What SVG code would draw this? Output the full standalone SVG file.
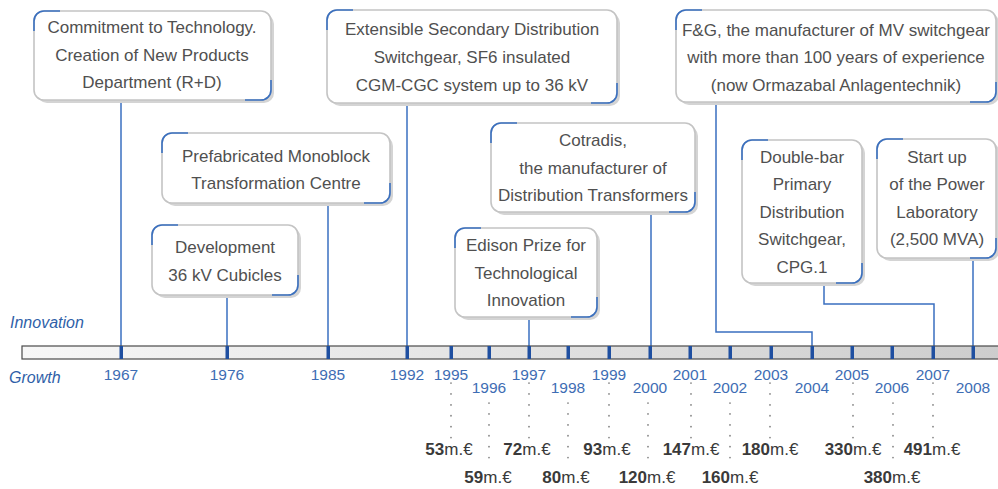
<svg xmlns="http://www.w3.org/2000/svg" width="998" height="489" viewBox="0 0 998 489">
<defs>
<linearGradient id="barg" x1="0" y1="0" x2="1" y2="0">
<stop offset="0" stop-color="#f7f7f7"/>
<stop offset="1" stop-color="#cdcdcd"/>
</linearGradient>
</defs>
<style>
.box{fill:#ffffff;stroke:#c4c4c4;stroke-width:1.6}
.shd{fill:#d4d4d4}
.bc{fill:none;stroke:#3a70c0;stroke-width:1.6}
.bt{font-family:"Liberation Sans",Arial,sans-serif;font-size:17px;fill:#505050;text-anchor:middle}
.con{fill:none;stroke:#3a6fc0;stroke-width:1.5}
.tick{fill:#1f4fa0}
.yr{font-family:"Liberation Sans",Arial,sans-serif;font-size:15.5px;fill:#3e6db4;text-anchor:middle}
.lab{font-family:"Liberation Sans",Arial,sans-serif;font-size:16px;font-style:italic;fill:#2f5fa8}
.dot{fill:none;stroke:#808080;stroke-width:1.7;stroke-dasharray:0.1 10.8;stroke-linecap:round}
.mon{font-family:"Liberation Sans",Arial,sans-serif;font-size:17px;fill:#3a3a3a;text-anchor:middle}
.mon tspan{font-weight:bold}
</style>

<g id="connectors">
<path class="con" d="M121 100V346"/>
<path class="con" d="M227 295V346"/>
<path class="con" d="M328 203V346"/>
<path class="con" d="M407 103V346"/>
<path class="con" d="M529 317V346"/>
<path class="con" d="M651 212V346"/>
<path class="con" d="M716 102V332H812V346"/>
<path class="con" d="M824 283V304H934V346"/>
<path class="con" d="M973 258V346"/>
</g>

<g id="box-1967">
<rect class="shd" x="37" y="14" width="237" height="89" rx="10"/>
<rect class="box" x="34" y="11" width="237" height="89" rx="10"/>
<path class="bc" d="M34 31V21A10 10 0 0 1 44 11H60"/>
<path class="bc" d="M271 80V90A10 10 0 0 1 261 100H245"/>
<text class="bt" x="152" y="33">Commitment to Technology.</text>
<text class="bt" x="152" y="61">Creation of New Products</text>
<text class="bt" x="152" y="88">Department (R+D)</text>
</g>

<g id="box-1985">
<rect class="shd" x="165" y="136" width="228" height="70" rx="10"/>
<rect class="box" x="162" y="133" width="228" height="70" rx="10"/>
<path class="bc" d="M162 153V143A10 10 0 0 1 172 133H188"/>
<path class="bc" d="M390 183V193A10 10 0 0 1 380 203H364"/>
<text class="bt" x="276" y="162">Prefabricated Monoblock</text>
<text class="bt" x="276" y="189">Transformation Centre</text>
</g>

<g id="box-1976">
<rect class="shd" x="155" y="228" width="146" height="70" rx="10"/>
<rect class="box" x="152" y="225" width="146" height="70" rx="10"/>
<path class="bc" d="M152 245V235A10 10 0 0 1 162 225H178"/>
<path class="bc" d="M298 275V285A10 10 0 0 1 288 295H272"/>
<text class="bt" x="225" y="253">Development</text>
<text class="bt" x="225" y="281">36 kV Cubicles</text>
</g>

<g id="box-1992">
<rect class="shd" x="330" y="13" width="290" height="93" rx="10"/>
<rect class="box" x="327" y="10" width="290" height="93" rx="10"/>
<path class="bc" d="M327 30V20A10 10 0 0 1 337 10H353"/>
<path class="bc" d="M617 83V93A10 10 0 0 1 607 103H591"/>
<text class="bt" x="472" y="35">Extensible Secondary Distribution</text>
<text class="bt" x="472" y="63">Switchgear, SF6 insulated</text>
<text class="bt" x="472" y="91">CGM-CGC system up to 36 kV</text>
</g>

<g id="box-2000">
<rect class="shd" x="494" y="126" width="204" height="89" rx="10"/>
<rect class="box" x="491" y="123" width="204" height="89" rx="10"/>
<path class="bc" d="M491 143V133A10 10 0 0 1 501 123H517"/>
<path class="bc" d="M695 192V202A10 10 0 0 1 685 212H669"/>
<text class="bt" x="593" y="146">Cotradis,</text>
<text class="bt" x="593" y="174">the manufacturer of</text>
<text class="bt" x="593" y="201">Distribution Transformers</text>
</g>

<g id="box-1997">
<rect class="shd" x="458" y="231" width="142" height="89" rx="10"/>
<rect class="box" x="455" y="228" width="142" height="89" rx="10"/>
<path class="bc" d="M455 248V238A10 10 0 0 1 465 228H481"/>
<path class="bc" d="M597 297V307A10 10 0 0 1 587 317H571"/>
<text class="bt" x="526" y="251">Edison Prize for</text>
<text class="bt" x="526" y="279">Technological</text>
<text class="bt" x="526" y="306">Innovation</text>
</g>

<g id="box-2004">
<rect class="shd" x="679" y="13" width="320" height="92" rx="10"/>
<rect class="box" x="676" y="10" width="320" height="92" rx="10"/>
<path class="bc" d="M676 30V20A10 10 0 0 1 686 10H702"/>
<path class="bc" d="M996 82V92A10 10 0 0 1 986 102H970"/>
<text class="bt" x="836" y="36">F&amp;G, the manufacturer of MV switchgear</text>
<text class="bt" x="836" y="63">with more than 100 years of experience</text>
<text class="bt" x="836" y="91">(now Ormazabal Anlagentechnik)</text>
</g>

<g id="box-2007">
<rect class="shd" x="745" y="143" width="120" height="143" rx="10"/>
<rect class="box" x="742" y="140" width="120" height="143" rx="10"/>
<path class="bc" d="M742 160V150A10 10 0 0 1 752 140H768"/>
<path class="bc" d="M862 263V273A10 10 0 0 1 852 283H836"/>
<text class="bt" x="802" y="163">Double-bar</text>
<text class="bt" x="802" y="190">Primary</text>
<text class="bt" x="802" y="218">Distribution</text>
<text class="bt" x="802" y="245">Switchgear,</text>
<text class="bt" x="802" y="273">CPG.1</text>
</g>

<g id="box-2008">
<rect class="shd" x="880" y="142" width="119" height="119" rx="10"/>
<rect class="box" x="877" y="139" width="119" height="119" rx="10"/>
<path class="bc" d="M877 159V149A10 10 0 0 1 887 139H903"/>
<path class="bc" d="M996 238V248A10 10 0 0 1 986 258H970"/>
<text class="bt" x="937" y="163">Start up</text>
<text class="bt" x="937" y="190">of the Power</text>
<text class="bt" x="937" y="218">Laboratory</text>
<text class="bt" x="937" y="245">(2,500 MVA)</text>
</g>

<g id="timeline">
<rect x="22" y="346" width="980" height="13" fill="url(#barg)" stroke="#4a4a4a" stroke-width="1.2"/>
<rect class="tick" x="119.5" y="346" width="3.5" height="13"/>
<rect class="tick" x="225.5" y="346" width="3.5" height="13"/>
<rect class="tick" x="326.5" y="346" width="3.5" height="13"/>
<rect class="tick" x="405.5" y="346" width="3.5" height="13"/>
<rect class="tick" x="449.5" y="346" width="3.5" height="13"/>
<rect class="tick" x="487.5" y="346" width="3.5" height="13"/>
<rect class="tick" x="527.5" y="346" width="3.5" height="13"/>
<rect class="tick" x="566.5" y="346" width="3.5" height="13"/>
<rect class="tick" x="607.5" y="346" width="3.5" height="13"/>
<rect class="tick" x="648.5" y="346" width="3.5" height="13"/>
<rect class="tick" x="688.5" y="346" width="3.5" height="13"/>
<rect class="tick" x="728.5" y="346" width="3.5" height="13"/>
<rect class="tick" x="769.5" y="346" width="3.5" height="13"/>
<rect class="tick" x="810.5" y="346" width="3.5" height="13"/>
<rect class="tick" x="850.5" y="346" width="3.5" height="13"/>
<rect class="tick" x="890.5" y="346" width="3.5" height="13"/>
<rect class="tick" x="931.5" y="346" width="3.5" height="13"/>
<rect class="tick" x="971.5" y="346" width="3.5" height="13"/>
</g>

<g id="labels">
<text class="lab" x="10" y="328">Innovation</text>
<text class="lab" x="9" y="383">Growth</text>
</g>

<g id="years">
<text class="yr" x="121" y="380">1967</text>
<text class="yr" x="227" y="380">1976</text>
<text class="yr" x="328" y="380">1985</text>
<text class="yr" x="407" y="380">1992</text>
<text class="yr" x="451" y="380">1995</text>
<text class="yr" x="489" y="393">1996</text>
<text class="yr" x="529" y="380">1997</text>
<text class="yr" x="568" y="393">1998</text>
<text class="yr" x="609" y="380">1999</text>
<text class="yr" x="650" y="393">2000</text>
<text class="yr" x="690" y="380">2001</text>
<text class="yr" x="730" y="393">2002</text>
<text class="yr" x="771" y="380">2003</text>
<text class="yr" x="812" y="393">2004</text>
<text class="yr" x="852" y="380">2005</text>
<text class="yr" x="892" y="393">2006</text>
<text class="yr" x="933" y="380">2007</text>
<text class="yr" x="973" y="393">2008</text>
</g>

<g id="dots">
<path class="dot" d="M451 383V438"/>
<path class="dot" d="M489 403V468"/>
<path class="dot" d="M529 383V438"/>
<path class="dot" d="M568 403V468"/>
<path class="dot" d="M609 383V438"/>
<path class="dot" d="M648 403V468"/>
<path class="dot" d="M691 383V438"/>
<path class="dot" d="M730 403V468"/>
<path class="dot" d="M770 383V438"/>
<path class="dot" d="M853 383V438"/>
<path class="dot" d="M893 403V468"/>
<path class="dot" d="M933 383V438"/>
</g>

<g id="revenue">
<text class="mon" x="449" y="455"><tspan>53</tspan>m.€</text>
<text class="mon" x="527" y="455"><tspan>72</tspan>m.€</text>
<text class="mon" x="607" y="455"><tspan>93</tspan>m.€</text>
<text class="mon" x="691" y="455"><tspan>147</tspan>m.€</text>
<text class="mon" x="770" y="455"><tspan>180</tspan>m.€</text>
<text class="mon" x="853" y="455"><tspan>330</tspan>m.€</text>
<text class="mon" x="932" y="455"><tspan>491</tspan>m.€</text>
<text class="mon" x="488" y="483"><tspan>59</tspan>m.€</text>
<text class="mon" x="566" y="483"><tspan>80</tspan>m.€</text>
<text class="mon" x="647" y="483"><tspan>120</tspan>m.€</text>
<text class="mon" x="730" y="483"><tspan>160</tspan>m.€</text>
<text class="mon" x="892" y="483"><tspan>380</tspan>m.€</text>
</g>
</svg>
